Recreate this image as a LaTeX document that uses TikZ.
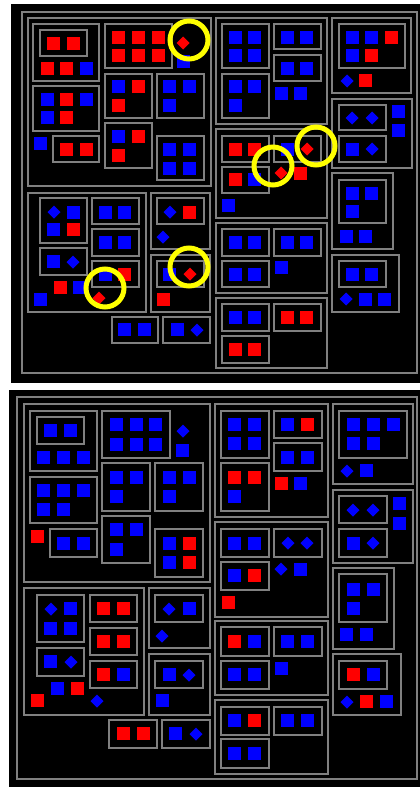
\documentclass[tikz,border=0pt]{standalone}
\definecolor{gr}{RGB}{128,128,128}
\definecolor{rd}{RGB}{255,0,0}
\definecolor{bl}{RGB}{0,0,255}
\definecolor{yl}{RGB}{255,255,0}
\tikzset{
  boxst/.style={draw=gr,line width=2pt},
  redfill/.style={fill=rd},
  bluefill/.style={fill=bl},
  ring/.style={draw=yl,line width=5pt}
}
\newcommand\bx[4]{\draw[boxst] (#1,#2) rectangle (#3,#4);}
\newcommand\rs[2]{\fill[redfill] (#1,#2) rectangle ++(13,13);}
\newcommand\bs[2]{\fill[bluefill] (#1,#2) rectangle ++(13,13);}
\newcommand\rd[2]{\fill[redfill] (#1,#2) ++(0,-6.5) -- ++(6.5,6.5) -- ++(-6.5,6.5) -- ++(-6.5,-6.5) -- cycle;}
\newcommand\bd[2]{\fill[bluefill] (#1,#2) ++(0,-6.5) -- ++(6.5,6.5) -- ++(-6.5,6.5) -- ++(-6.5,-6.5) -- cycle;}
\newcommand\yc[2]{\draw[ring] (#1,#2) circle (19);}
\begin{document}
\begin{tikzpicture}[x=1pt,y=-1pt]
\useasboundingbox (0,0) rectangle (420,787);
\fill[white] (0,0) rectangle (420,787);
% ================= TOP PANEL =================
\fill[black] (11,4) rectangle (420,383);
\bx{22}{12}{417}{373}
% Block A
\bx{28}{18}{211}{186}
\bx{33}{24}{99}{81} \bx{40}{30}{87}{56}
\rs{47}{37} \rs{67}{37}
\rs{41}{62} \rs{60}{62} \bs{80}{62}
\bx{33}{86}{99}{131}
\bs{41}{93} \rs{60}{93} \bs{80}{93}
\bs{41}{111} \rs{60}{111}
\bs{34}{137}
\bx{53}{136}{99}{162} \rs{60}{143} \rs{80}{143}
\bx{105}{24}{172}{68}
\rs{112}{31} \rs{132}{31} \rs{152}{31}
\rs{112}{49} \rs{132}{49} \rs{152}{49}
\rd{183}{43} \bs{177}{55}
\bx{105}{74}{152}{118} \bs{112}{80} \rs{132}{80} \rs{112}{99}
\bx{157}{74}{204}{118} \bs{163}{80} \bs{183}{80} \bs{163}{99}
\bx{105}{123}{152}{168} \bs{112}{130} \rs{132}{130} \rs{112}{149}
\bx{157}{136}{204}{180} \bs{163}{143} \bs{183}{143} \bs{163}{162} \bs{183}{162}
% Block B
\bx{216}{18}{327}{124}
\bx{222}{24}{269}{68} \bs{229}{31} \bs{248}{31} \bs{229}{49} \bs{248}{49}
\bx{274}{24}{321}{49} \bs{281}{31} \bs{300}{31}
\bx{274}{55}{321}{81} \bs{281}{62} \bs{300}{62}
\bx{222}{74}{269}{118} \bs{229}{80} \bs{248}{80} \bs{229}{99}
\bs{275}{87} \bs{294}{87}
% Block C
\bx{332}{18}{411}{93}
\bx{339}{24}{405}{68} \bs{346}{31} \bs{365}{31} \rs{385}{31} \bs{346}{49} \rs{365}{49}
\bd{347}{81} \rs{359}{74}
% Block D
\bx{332}{99}{412}{168}
\bx{339}{105}{386}{130} \bd{352}{118} \bd{372}{118}
\bx{339}{136}{386}{162} \bs{346}{143} \bd{372}{149}
\bs{392}{105} \bs{392}{124}
% Block E
\bx{216}{129}{327}{218}
\bx{222}{136}{269}{162} \rs{229}{143} \rs{248}{143}
\bx{274}{136}{321}{162} \bs{281}{143} \rd{307}{149}
\bx{222}{167}{269}{193} \rs{229}{173} \bs{248}{173}
\rd{281}{173} \rs{294}{167}
\bs{222}{199}
% Block F
\bx{332}{173}{393}{249}
\bx{339}{180}{386}{223} \bs{346}{187} \bs{365}{187} \bs{346}{205}
\bs{340}{230} \bs{359}{230}
% Block G
\bx{216}{223}{327}{293}
\bx{222}{229}{269}{256} \bs{229}{236} \bs{248}{236}
\bx{274}{229}{321}{256} \bs{281}{236} \bs{300}{236}
\bx{222}{261}{269}{287} \bs{229}{268} \bs{248}{268}
\bs{275}{261}
% Block H
\bx{332}{255}{399}{312}
\bx{339}{261}{386}{287} \bs{346}{268} \bs{365}{268}
\bd{346}{299} \bs{359}{293} \bs{378}{293}
% Block I
\bx{216}{298}{327}{368}
\bx{222}{304}{269}{331} \bs{229}{311} \bs{248}{311}
\bx{274}{304}{321}{331} \rs{281}{311} \rs{300}{311}
\bx{222}{336}{269}{363} \rs{229}{343} \rs{248}{343}
% Block J
\bx{28}{193}{146}{312}
\bx{40}{198}{87}{243} \bd{54}{212} \bs{67}{206} \bs{47}{223} \rs{67}{223}
\bx{40}{248}{87}{275} \bs{47}{255} \bd{73}{262}
\bx{92}{198}{139}{224} \bs{99}{206} \bs{118}{206}
\bx{92}{229}{139}{256} \bs{99}{236} \bs{118}{236}
\bx{92}{261}{139}{287} \bs{99}{268} \rs{118}{268}
\rs{54}{281} \bs{73}{281} \bs{34}{293} \rd{99}{298}
% Block K, L
\bx{151}{193}{210}{249}
\bx{157}{198}{204}{224} \bd{170}{212} \rs{183}{206}
\bd{163}{237}
\bx{151}{255}{210}{312}
\bx{157}{261}{204}{287} \bs{163}{268} \rd{190}{274}
\rs{157}{293}
% bottom small boxes
\bx{112}{317}{158}{343} \bs{118}{323} \bs{138}{323}
\bx{163}{317}{210}{343} \bs{171}{323} \bd{197}{330}
% yellow rings
\yc{189}{40} \yc{316}{146} \yc{273}{166} \yc{189}{267} \yc{105}{288}
% ================= BOTTOM PANEL =================
\fill[black] (9,390) rectangle (420,787);
\bx{17}{397}{417}{779}
% Block A'
\bx{24}{404}{210}{582}
\bx{30}{411}{97}{471} \bx{37}{417}{84}{444}
\bs{44}{424} \bs{64}{424}
\bs{37}{451} \bs{57}{451} \bs{77}{451}
\bx{30}{477}{97}{523}
\bs{37}{484} \bs{57}{484} \bs{77}{484} \bs{37}{503} \bs{57}{503}
\rs{31}{530}
\bx{50}{529}{97}{557} \bs{57}{537} \bs{77}{537}
\bx{102}{411}{170}{458}
\bs{110}{418} \bs{130}{418} \bs{149}{418}
\bs{110}{438} \bs{130}{438} \bs{149}{438}
\bd{183}{431} \bs{176}{444}
\bx{102}{463}{150}{511} \bs{110}{471} \bs{130}{471} \bs{110}{490}
\bx{155}{463}{203}{511} \bs{163}{471} \bs{183}{471} \bs{163}{490}
\bx{102}{516}{150}{563} \bs{110}{523} \bs{130}{523} \bs{110}{543}
\bx{155}{529}{203}{577} \bs{163}{537} \rs{183}{537} \bs{163}{556} \rs{183}{556}
% Block B'
\bx{215}{404}{328}{517}
\bx{221}{411}{269}{458} \bs{228}{418} \bs{248}{418} \bs{228}{437} \bs{248}{437}
\bx{274}{411}{322}{438} \bs{281}{418} \rs{301}{418}
\bx{274}{443}{322}{471} \bs{281}{451} \bs{301}{451}
\bx{221}{463}{269}{511} \rs{228}{471} \rs{248}{471} \bs{228}{490}
\rs{275}{477} \bs{294}{477}
% Block C'
\bx{333}{404}{413}{484}
\bx{339}{411}{407}{458} \bs{347}{418} \bs{367}{418} \bs{387}{418} \bs{347}{437} \bs{367}{437}
\bd{347}{471} \bs{360}{464}
% Block D'
\bx{333}{490}{413}{563}
\bx{339}{496}{387}{523} \bd{353}{510} \bd{373}{510}
\bx{339}{529}{387}{557} \bs{347}{537} \bd{373}{543}
\bs{393}{497} \bs{393}{517}
% Block E'
\bx{215}{522}{328}{617}
\bx{221}{529}{269}{557} \bs{228}{537} \bs{248}{537}
\bx{274}{529}{322}{557} \bd{288}{543} \bd{307}{543}
\bx{221}{562}{269}{590} \bs{228}{569} \rs{248}{569}
\bd{281}{569} \bs{294}{563}
\rs{222}{596}
% Block F'
\bx{333}{568}{394}{649}
\bx{339}{574}{387}{622} \bs{347}{583} \bs{367}{583} \bs{347}{602}
\bs{340}{628} \bs{360}{628}
% Block G'
\bx{215}{621}{328}{695}
\bx{221}{627}{269}{656} \rs{228}{635} \bs{248}{635}
\bx{274}{627}{322}{656} \bs{281}{635} \bs{301}{635}
\bx{221}{661}{269}{689} \bs{228}{668} \bs{248}{668}
\bs{275}{662}
% Block H'
\bx{333}{654}{401}{715}
\bx{339}{661}{387}{689} \rs{347}{668} \bs{367}{668}
\bd{347}{702} \rs{360}{695} \bs{380}{695}
% Block I'
\bx{215}{700}{328}{774}
\bx{221}{707}{269}{735} \bs{228}{714} \rs{248}{714}
\bx{274}{707}{322}{735} \bs{281}{714} \bs{301}{714}
\bx{221}{739}{269}{768} \bs{228}{747} \bs{248}{747}
% Block J'
\bx{24}{588}{144}{715}
\bx{37}{595}{84}{642} \bd{51}{609} \bs{64}{602} \bs{44}{622} \bs{64}{622}
\bx{37}{648}{84}{676} \bs{44}{655} \bd{71}{662}
\bx{90}{595}{137}{622} \rs{97}{602} \rs{117}{602}
\bx{90}{628}{137}{655} \rs{97}{635} \rs{117}{635}
\bx{90}{661}{137}{688} \rs{97}{668} \bs{117}{668}
\bs{51}{682} \rs{71}{682} \rs{31}{694} \bd{97}{701}
% Block K', L'
\bx{149}{588}{210}{648}
\bx{155}{595}{203}{622} \bd{169}{609} \bs{183}{602}
\bd{162}{636}
\bx{149}{654}{210}{715}
\bx{155}{661}{203}{688} \bs{163}{668} \bd{189}{675}
\bs{156}{694}
% bottom small boxes
\bx{109}{720}{157}{748} \rs{117}{727} \rs{137}{727}
\bx{162}{720}{210}{748} \bs{169}{727} \bd{196}{734}
\end{tikzpicture}
\end{document}
